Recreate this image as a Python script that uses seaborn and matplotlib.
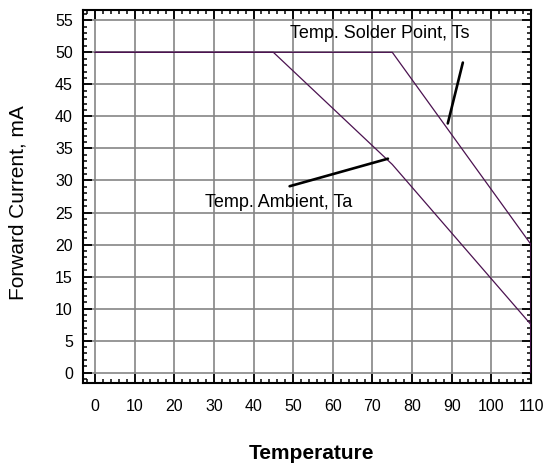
import numpy as np
import pandas as pd
import seaborn as sns
import matplotlib
matplotlib.use('Agg')
import matplotlib.pyplot as plt
from matplotlib.ticker import MultipleLocator

# derating curves
ta_temp = [0, 45, 75, 110, 110]
ta_current = [50, 50, 32.5, 7.5, 0]
ts_temp = [0, 75, 110, 110]
ts_current = [50, 50, 20, 0]

x_ticks = [0, 10, 20, 30, 40, 50, 60, 70, 80, 90, 100, 110]
y_ticks = [0, 5, 10, 15, 20, 25, 30, 35, 40, 45, 50, 55]

sns.set_style("ticks")
plt.rcParams['font.family'] = ['Liberation Sans', 'DejaVu Sans']
plt.rcParams['text.color'] = 'black'
plt.rcParams['axes.labelcolor'] = 'black'
plt.rcParams['xtick.color'] = 'black'
plt.rcParams['ytick.color'] = 'black'

line_color = '#4B1250'

fig = plt.figure(figsize=(5.47, 4.66), dpi=100)
ax = fig.add_axes([0.1512, 0.1775, 0.8196, 0.801])

ta = pd.DataFrame({'Temperature': ta_temp, 'Current': ta_current})
ts = pd.DataFrame({'Temperature': ts_temp, 'Current': ts_current})
sns.lineplot(data=ta, x='Temperature', y='Current', sort=False, estimator=None,
             color=line_color, linewidth=0.9, ax=ax, zorder=3)
sns.lineplot(data=ts, x='Temperature', y='Current', sort=False, estimator=None,
             color=line_color, linewidth=0.9, ax=ax, zorder=3)

ax.set_xlim(-3.1, 110)
ax.set_ylim(-1.65, 56.6)
ax.set_xticks(x_ticks)
ax.set_yticks(y_ticks)
ax.xaxis.set_minor_locator(MultipleLocator(2))
ax.yaxis.set_minor_locator(MultipleLocator(1))
ax.grid(True, which='major', color='#858585', linewidth=1.2, zorder=0)
ax.set_axisbelow(True)

ax.tick_params(which='both', direction='in', top=True, right=True,
               colors='black', labelcolor='black', labelsize=11.5)
ax.tick_params(which='major', length=6.5, width=1.3)
ax.tick_params(which='minor', length=3, width=1.1)
ax.tick_params(axis='x', which='major', pad=11)
ax.tick_params(axis='y', which='major', pad=7)
for s in ax.spines.values():
    s.set_linewidth(1.5)
    s.set_color('black')

ax.set_xlabel('Temperature', fontsize=15, fontweight='bold', color='black')
ax.set_ylabel('Forward Current, mA', fontsize=15, color='black')
ax.xaxis.set_label_coords(0.5095, -0.163)
ax.yaxis.set_label_coords(-0.124, 0.483)

# callouts
ax.plot([92.8, 89.0], [48.4, 38.9], color='black', linewidth=1.9, zorder=4)
ax.plot([49.1, 73.9], [29.1, 33.4], color='black', linewidth=1.9, zorder=4)
ax.text(49.2, 52.9, 'Temp. Solder Point, Ts', fontsize=13, ha='left', va='center',
        zorder=5)
ax.text(27.7, 26.6, 'Temp. Ambient, Ta', fontsize=13, ha='left', va='center',
        zorder=5)

fig.savefig('out.png', dpi=100)
